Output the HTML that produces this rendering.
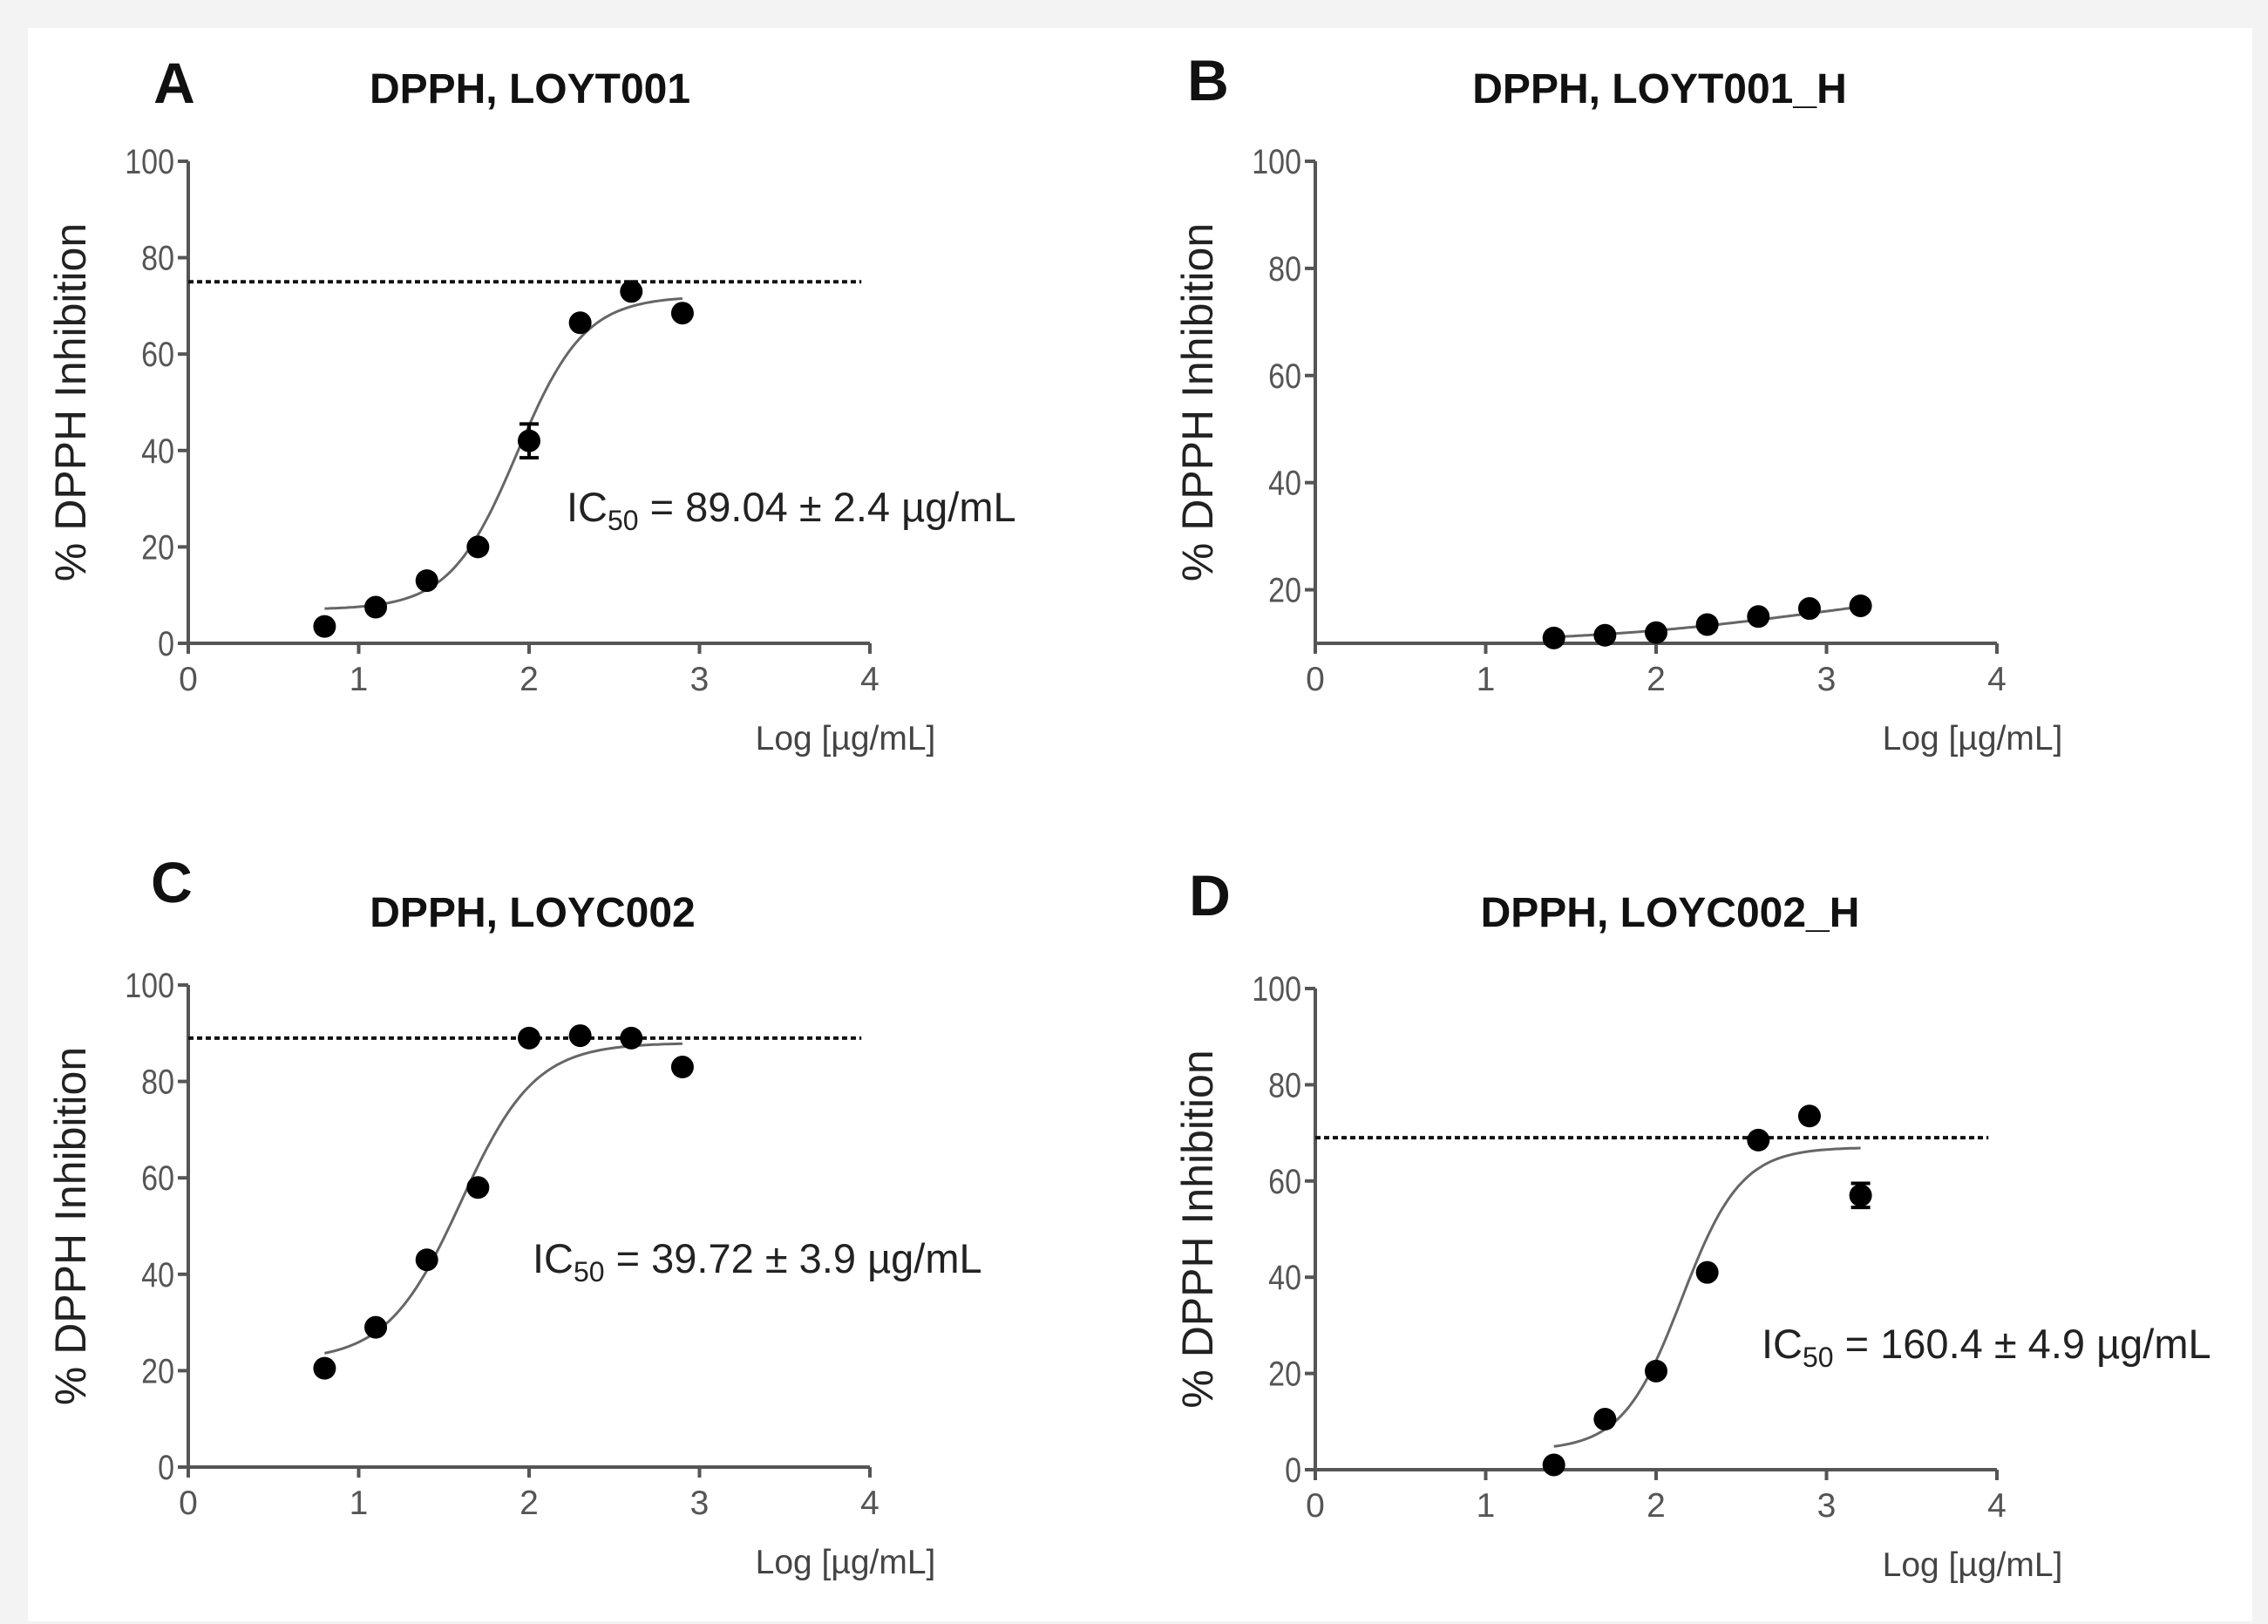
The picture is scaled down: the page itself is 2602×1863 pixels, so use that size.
<!DOCTYPE html>
<html><head><meta charset="utf-8"><style>
html,body{margin:0;padding:0;background:#fff;}
svg{display:block;}
text{font-family:"Liberation Sans",sans-serif;}
</style></head><body>
<svg id="fig" width="2602" height="1863" viewBox="0 0 2602 1863">
<rect x="0" y="0" width="2602" height="1863" fill="#f3f3f3"/>
<rect x="32" y="32" width="2552" height="1828" fill="#ffffff"/>
</svg>
<script>
// Panel A data
const xA = [0.8,1.1,1.4,1.7,2.0,2.3,2.6,2.9];
const yA = [3.5,7.5,13,20,42,66.5,73,68.5];
const eA = [0,0,0,0,3.5,0,0,0];
const fitA = [7,72,1.93,2.2]; // bottom, top, logIC50, hill
const plateauA = 75;
// Panel B data
const xB = [1.4,1.7,2.0,2.3,2.6,2.9,3.2];
const yB = [11,11.5,12,13.5,15,16.5,17];
const eB = [0,0,0,0,0,0,0];
const fitB = [10,22,3.0,0.6];
// Panel C data
const xC = [0.8,1.1,1.4,1.7,2.0,2.3,2.6,2.9];
const yC = [20.5,29,43,58,89,89.5,89,83];
const eC = [0,0,0,0,0,0,0,0];
const fitC = [22,88,1.6,2.0];
const plateauC = 89;
// Panel D data
const xD = [1.4,1.7,2.0,2.3,2.6,2.9,3.2];
const yD = [1,10.5,20.5,41,68.5,73.5,57];
const eD = [0,0,0,0,0,0,2.5];
const fitD = [4,67,2.15,2.5];
const plateauD = 69;
const xTicks = [0,1,2,3,4];

const NS = "http://www.w3.org/2000/svg";
const svg = document.getElementById('fig');
function mk(tag, attrs, parent){
  const e = document.createElementNS(NS, tag);
  for (const k in attrs) e.setAttribute(k, attrs[k]);
  (parent||svg).appendChild(e);
  return e;
}

function panel(p){
  const g = mk('g', {});
  
  
  const sx = v => p.x0 + (v - 0) / 4 * (p.x4 - p.x0);
  const sy = v => p.yb - (v - p.ymin) / (100 - p.ymin) * (p.yb - p.yt);
  const L = mk('text', {x:p.lx, y:p.ly, 'font-size':66, 'font-weight':'bold', 'text-anchor':'middle', fill:'#111'}, g);
  L.textContent = p.id;
  
  
  const T = mk('text', {x:p.tx, y:p.ty, 'font-size':48, 'font-weight':'bold', 'text-anchor':'middle', fill:'#111'}, g);
  T.textContent = p.title;
  
  
  const ax = mk('path', {d:`M${p.x0},${p.yt} L${p.x0},${p.yb} L${p.x4},${p.yb}`, stroke:'#555', 'stroke-width':4, fill:'none'}, g);
  
  
  p.yTicks.forEach(v=>{
    const y = sy(v);
    const t = mk('line', {x1:p.x0-12, x2:p.x0, y1:y, y2:y, stroke:'#555', 'stroke-width':4}, g);
    
    
    const tl = mk('text', {x:p.x0-16, y:y+14, 'font-size':40, 'text-anchor':'end', fill:'#555', transform:`scale(0.85,1)`, 'transform-origin':`${p.x0-16} ${y}`}, g);
    tl.textContent = v;
    
    
  });
  xTicks.forEach(v=>{
    const x = sx(v);
    const t = mk('line', {x1:x, x2:x, y1:p.yb, y2:p.yb+12, stroke:'#555', 'stroke-width':4}, g);
    
    
    const tl = mk('text', {x:x, y:p.yb+54, 'font-size':39, 'text-anchor':'middle', fill:'#555'}, g);
    tl.textContent = v;
    
    
  });
  const yl = mk('text', {x:0, y:0, 'font-size':50, 'text-anchor':'middle', fill:'#222', transform:`translate(${p.x0-118},${(p.yt+p.yb)/2}) rotate(-90)`}, g);
  yl.textContent = '% DPPH Inhibition';
  
  
  const xl = mk('text', {x:p.x4-28, y:p.yb+122, 'font-size':39, 'text-anchor':'middle', fill:'#444'}, g);
  xl.textContent = 'Log [µg/mL]';
  
  
  if (p.plateau !== undefined){
    const pl = mk('line', {x1:p.x0, x2:sx(3.95), y1:sy(p.plateau), y2:sy(p.plateau), stroke:'#111', 'stroke-width':4, 'stroke-dasharray':'6,4'}, g);
    
    
  }
  const [b, tp, c, h] = p.fit;
  const x1 = p.xs[0], x2 = p.xs[p.xs.length-1];
  let d = '';
  for (let i=0;i<=100;i++){
    const xv = x1 + (x2-x1)*i/100;
    const yv = b + (tp-b)/(1+Math.pow(10, h*(c-xv)));
    d += (i?'L':'M') + sx(xv).toFixed(1) + ',' + sy(yv).toFixed(1);
  }
  const fc = mk('path', {d, stroke:'#666', 'stroke-width':3, fill:'none'}, g);
  
  
  p.xs.forEach((xv,i)=>{
    const cx = sx(xv), cy = sy(p.ys[i]);
    if (p.es[i] > 0){
      const e1 = sy(p.ys[i]+p.es[i]), e2 = sy(p.ys[i]-p.es[i]);
      const eb = mk('path', {d:`M${cx},${e1}L${cx},${e2}M${cx-11},${e1}L${cx+11},${e1}M${cx-11},${e2}L${cx+11},${e2}`, stroke:'#000', 'stroke-width':4, fill:'none'}, g);
      
      
    }
    const pt = mk('circle', {cx, cy, r:13, fill:'#000'}, g);
    
    
  });
  if (p.ic){
    const ic = mk('text', {x:p.icx, y:p.icy, 'font-size':47, fill:'#222'}, g);
    
    
    const s1 = mk('tspan', {}, ic); s1.textContent = 'IC';
    const s2 = mk('tspan', {'font-size':32, dy:10}, ic); s2.textContent = '50';
    const s3 = mk('tspan', {dy:-10}, ic); s3.textContent = ' = ' + p.ic;
  }
}

panel({id:'A', title:'DPPH, LOYT001', lx:200, ly:118, tx:608, ty:118,
  x0:216, x4:998, yt:185, yb:738, ymin:0, yTicks:[0,20,40,60,80,100],
  xs:xA, ys:yA, es:eA, fit:fitA, plateau:plateauA, ic:'89.04 ± 2.4 µg/mL', icx:650, icy:598});
panel({id:'B', title:'DPPH, LOYT001_H', lx:1386, ly:115, tx:1904, ty:118,
  x0:1509, x4:2291, yt:185, yb:738, ymin:10, yTicks:[20,40,60,80,100],
  xs:xB, ys:yB, es:eB, fit:fitB});
panel({id:'C', title:'DPPH, LOYC002', lx:197, ly:1035, tx:611, ty:1063,
  x0:216, x4:998, yt:1130, yb:1683, ymin:0, yTicks:[0,20,40,60,80,100],
  xs:xC, ys:yC, es:eC, fit:fitC, plateau:plateauC, ic:'39.72 ± 3.9 µg/mL', icx:611, icy:1460});
panel({id:'D', title:'DPPH, LOYC002_H', lx:1388, ly:1050, tx:1916, ty:1063,
  x0:1509, x4:2291, yt:1134, yb:1686, ymin:0, yTicks:[0,20,40,60,80,100],
  xs:xD, ys:yD, es:eD, fit:fitD, plateau:plateauD, ic:'160.4 ± 4.9 µg/mL', icx:2021, icy:1558});
</script>
</body></html>
